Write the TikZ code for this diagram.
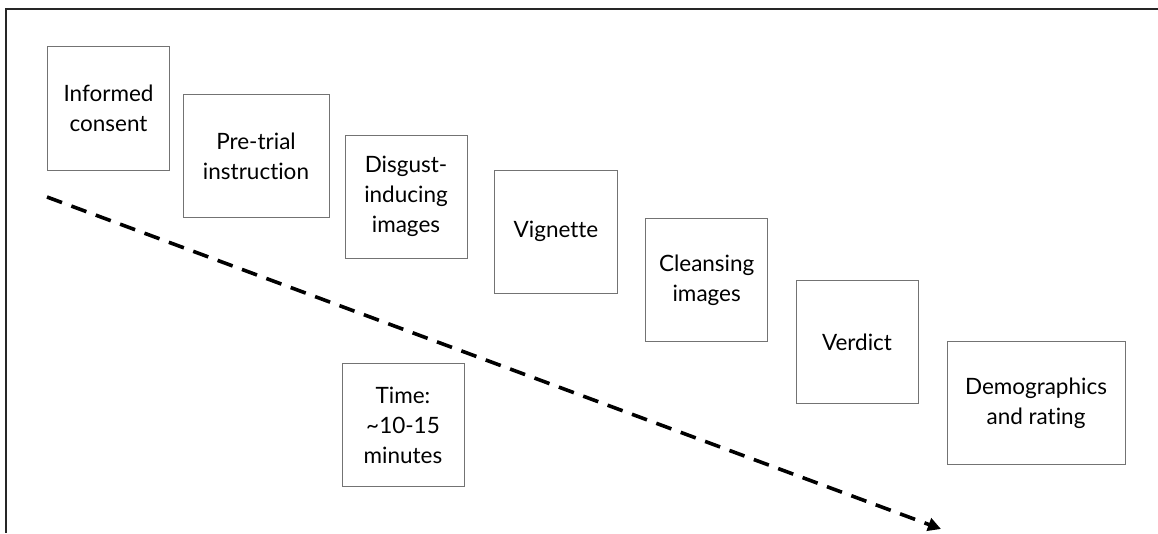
\documentclass[tikz,border=0pt]{standalone}
\usepackage{fontspec}
\setmainfont{Lato}[Ligatures=NoCommon]
\usetikzlibrary{arrows.meta}
\tikzset{
  stepbox/.style={draw=black!55, line width=0.9pt, inner sep=0pt, align=center,
    font=\fontsize{22.5}{30}\selectfont, text=black},
  timeline/.style={line width=3.6pt, dash pattern=on 16pt off 10pt,
    -{Triangle[length=13pt,width=13pt]}},
  frameline/.style={line width=1.6pt, black!85}
}
\begin{document}
\begin{tikzpicture}[x=1pt,y=-1pt]
\useasboundingbox (0,0) rectangle (1158,533);
\coordinate (ftr) at (1158,9);
\coordinate (ftl) at (6,9);
\coordinate (fbl) at (6,533);
\draw[frameline] (ftr) -- (ftl) -- (fbl);

\node[stepbox, minimum width=122pt, minimum height=124pt] (consent) at (108.5,108) {Informed\\consent};
\node[stepbox, minimum width=146pt, minimum height=123pt] (pretrial) at (256,156) {Pre-trial\\instruction};
\node[stepbox, minimum width=122pt, minimum height=123pt] (disgust) at (406,196.5) {Disgust-\\inducing\\images};
\node[stepbox, minimum width=123pt, minimum height=123pt] (vignette) at (556,231.5) {Vignette};
\node[stepbox, minimum width=122pt, minimum height=123pt] (cleansing) at (706.7,280.3) {Cleansing\\images};
\node[stepbox, minimum width=122pt, minimum height=123pt] (verdict) at (857,342) {Verdict};
\node[stepbox, minimum width=178pt, minimum height=123pt] (demo) at (1036,403.3) {Demographics\\and rating};
\node[stepbox, minimum width=122pt, minimum height=123pt] (time) at (403,425) {Time:\\\textasciitilde 10-15\\minutes};

\coordinate (tstart) at (47,197);
\coordinate (tend) at (941,529);
\draw[timeline] (tstart) -- (tend);
\end{tikzpicture}
\end{document}
